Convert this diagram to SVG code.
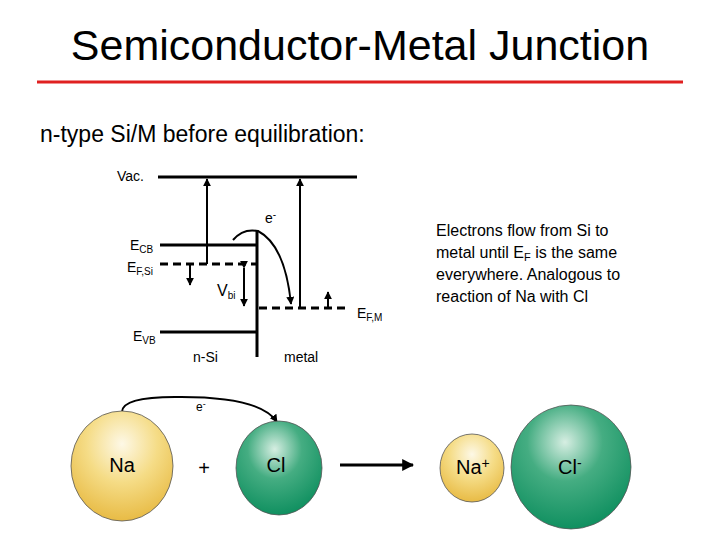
<svg xmlns="http://www.w3.org/2000/svg" width="720" height="540" viewBox="0 0 720 540">
<style>
text{font-family:"Liberation Sans",Arial,sans-serif;fill:#000}
.l{stroke:#000;stroke-width:3;fill:none}
.d{stroke:#000;stroke-width:3;stroke-dasharray:8,5;fill:none}
.a{stroke:#000;stroke-width:2;fill:none}
.s{font-size:14px}
.sub{font-size:10px}
.big{font-size:20px}
</style>
<defs>
<marker id="ah" viewBox="0 0 10 10" refX="9" refY="5" markerWidth="4" markerHeight="4" orient="auto"><path d="M0,0L10,5L0,10z"/></marker>
<radialGradient id="gy" cx="0.5" cy="0.3" r="0.7"><stop offset="0" stop-color="#fdf8e6"/><stop offset="0.5" stop-color="#f5dc86"/><stop offset="1" stop-color="#e8bb45"/></radialGradient>
<radialGradient id="gg" cx="0.45" cy="0.3" r="0.7"><stop offset="0" stop-color="#d6eee2"/><stop offset="0.45" stop-color="#45ad82"/><stop offset="1" stop-color="#109060"/></radialGradient>
</defs>
<rect width="720" height="540" fill="#fff"/>
<text x="360" y="60" text-anchor="middle" font-size="43">Semiconductor-Metal Junction</text>
<line x1="37" y1="82" x2="683" y2="82" stroke="#e02020" stroke-width="3"/>
<text x="40" y="142" font-size="23">n-type Si/M before equilibration:</text>
<g id="banddiagram">
<line class="l" x1="158" y1="177" x2="357" y2="177"/>
<line class="l" x1="160" y1="245" x2="257" y2="245"/>
<line class="d" x1="160" y1="264" x2="257" y2="264"/>
<line class="l" x1="160" y1="332" x2="257" y2="332"/>
<line class="l" x1="257" y1="230" x2="257" y2="357"/>
<line class="d" x1="259" y1="308" x2="349" y2="308"/>
</g>
<g id="connectors">
<line class="a" x1="207" y1="264" x2="207" y2="179" marker-end="url(#ah)"/>
<line class="a" x1="300" y1="308" x2="300" y2="179" marker-end="url(#ah)"/>
<line class="a" x1="190" y1="265" x2="190" y2="285" marker-end="url(#ah)"/>
<line class="a" x1="328" y1="307" x2="328" y2="292" marker-end="url(#ah)"/>
<line class="a" x1="244" y1="268" x2="244" y2="306" marker-end="url(#ah)" marker-start="url(#ah)"/>
<path class="a" d="M233,240 Q243,228 258,231 Q285,245 291,304" marker-end="url(#ah)"/>
<path class="a" d="M122,412 Q122,397 175,397 Q260,396 277,422" marker-end="url(#ah)"/>
<line x1="340" y1="465" x2="413" y2="465" stroke="#000" stroke-width="3" marker-end="url(#ah)"/>
</g>
<g id="labels">
<text x="117" y="181" class="s">Vac.</text>
<text x="130" y="250" class="s">E<tspan class="sub" dy="3">CB</tspan></text>
<text x="127" y="272" class="s">E<tspan class="sub" dy="3">F,Si</tspan></text>
<text x="217" y="296" font-size="16">V<tspan class="sub" dy="3" font-size="11">bi</tspan></text>
<text x="357" y="318" class="s">E<tspan class="sub" dy="3">F,M</tspan></text>
<text x="133" y="341" class="s">E<tspan class="sub" dy="3">VB</tspan></text>
<text x="193" y="362" class="s">n-Si</text>
<text x="284" y="362" class="s">metal</text>
<text x="265" y="223" class="s">e<tspan class="sub" dy="-5">-</tspan></text>
<text x="196" y="411" font-size="12">e<tspan font-size="9" dy="-4">-</tspan></text>
</g>
<text font-size="16"><tspan x="436" y="236">Electrons flow from Si to</tspan><tspan x="436" y="258">metal until E<tspan font-size="11" dy="3">F</tspan><tspan dy="-3"> is the same</tspan></tspan><tspan x="436" y="280">everywhere.  Analogous to</tspan><tspan x="436" y="302">reaction of Na with Cl</tspan></text>
<g id="Na"><ellipse cx="122" cy="466" rx="51" ry="55" fill="url(#gy)" stroke="#555" stroke-width="0.8"/><text x="122" y="472" text-anchor="middle" class="big">Na</text></g>
<text x="204" y="475" text-anchor="middle" class="big">+</text>
<g id="Cl"><ellipse cx="279" cy="468" rx="43" ry="47" fill="url(#gg)" stroke="#555" stroke-width="0.8"/><text x="276" y="472" text-anchor="middle" class="big">Cl</text></g>
<g id="Naplus"><ellipse cx="472" cy="468" rx="32" ry="34" fill="url(#gy)" stroke="#555" stroke-width="0.8"/><text x="456" y="474" class="big">Na<tspan font-size="14" dy="-6">+</tspan></text></g>
<g id="Clminus"><ellipse cx="571" cy="467" rx="60" ry="62" fill="url(#gg)" stroke="#555" stroke-width="0.8"/><text x="558" y="474" class="big">Cl<tspan font-size="14" dy="-6">-</tspan></text></g>
</svg>
